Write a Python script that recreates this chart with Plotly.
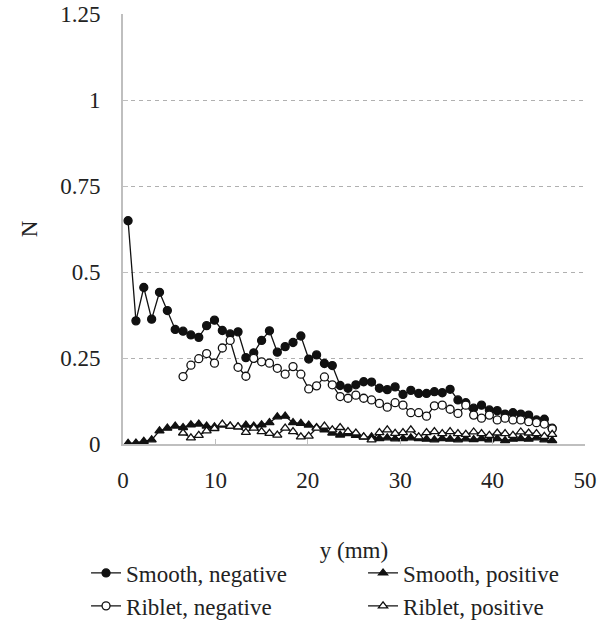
import plotly.graph_objects as go

# x positions (mm)
y_mm = [0.55, 1.40, 2.25, 3.10, 3.95, 4.80, 5.65, 6.50, 7.35, 8.20, 9.05, 9.90, 10.75, 11.60,
        12.45, 13.30, 14.15, 15.00, 15.85, 16.70, 17.55, 18.40, 19.25, 20.10, 20.95, 21.80,
        22.65, 23.50, 24.35, 25.20, 26.05, 26.90, 27.75, 28.60, 29.45, 30.30, 31.15, 32.00,
        32.85, 33.70, 34.55, 35.40, 36.25, 37.10, 37.95, 38.80, 39.65, 40.50, 41.35, 42.20,
        43.05, 43.90, 44.75, 45.60, 46.45]
y_mm_riblet = y_mm[7:]

smooth_neg = [0.649, 0.358, 0.455, 0.363, 0.441, 0.388, 0.333, 0.328, 0.317, 0.310, 0.344, 0.360,
              0.330, 0.320, 0.326, 0.251, 0.265, 0.301, 0.329, 0.267, 0.283, 0.295, 0.314, 0.247,
              0.259, 0.234, 0.228, 0.170, 0.162, 0.172, 0.181, 0.180, 0.162, 0.158, 0.166, 0.144,
              0.156, 0.147, 0.147, 0.152, 0.149, 0.159, 0.128, 0.120, 0.104, 0.113, 0.099, 0.097,
              0.087, 0.091, 0.087, 0.084, 0.070, 0.072, 0.046]
smooth_pos = [0.002, 0.003, 0.008, 0.012, 0.038, 0.046, 0.052, 0.048, 0.056, 0.058, 0.052, 0.050,
              0.055, 0.052, 0.050, 0.055, 0.052, 0.056, 0.062, 0.079, 0.081, 0.062, 0.060, 0.055,
              0.048, 0.041, 0.032, 0.026, 0.030, 0.025, 0.020, 0.021, 0.016, 0.018, 0.015, 0.016,
              0.018, 0.016, 0.014, 0.012, 0.016, 0.014, 0.012, 0.015, 0.013, 0.016, 0.012, 0.016,
              0.010, 0.014, 0.016, 0.014, 0.018, 0.012, 0.010]
riblet_neg = [0.196, 0.229, 0.248, 0.263, 0.235, 0.279, 0.301, 0.223, 0.197, 0.249, 0.239, 0.235,
              0.220, 0.203, 0.225, 0.203, 0.160, 0.169, 0.195, 0.172, 0.138, 0.133, 0.142, 0.133,
              0.128, 0.118, 0.107, 0.120, 0.113, 0.091, 0.091, 0.081, 0.111, 0.113, 0.101, 0.089,
              0.113, 0.084, 0.075, 0.084, 0.070, 0.075, 0.070, 0.070, 0.065, 0.062, 0.058, 0.044]
riblet_pos = [0.032, 0.018, 0.025, 0.038, 0.045, 0.058, 0.052, 0.050, 0.034, 0.046, 0.036, 0.031,
              0.026, 0.046, 0.036, 0.021, 0.023, 0.046, 0.052, 0.041, 0.048, 0.036, 0.032, 0.021,
              0.012, 0.033, 0.041, 0.031, 0.033, 0.041, 0.021, 0.033, 0.036, 0.030, 0.036, 0.030,
              0.028, 0.035, 0.030, 0.025, 0.032, 0.030, 0.025, 0.035, 0.032, 0.030, 0.022, 0.028]

y_ticks = [0, 0.25, 0.5, 0.75, 1, 1.25]
y_tick_text = ["0", "0.25", "0.5", "0.75", "1", "1.25"]
x_ticks = [0, 10, 20, 30, 40, 50]

INK = "#111111"
FONT = "Liberation Serif"
FS = 23

fig = go.Figure()
series = [
    ("Smooth, negative", y_mm, smooth_neg, "circle", INK),
    ("Smooth, positive", y_mm, smooth_pos, "triangle-up", INK),
    ("Riblet, negative", y_mm_riblet, riblet_neg, "circle", "white"),
    ("Riblet, positive", y_mm_riblet, riblet_pos, "triangle-up", "white"),
]
for name, xs, ys, sym, fill in series:
    fig.add_trace(go.Scatter(
        x=xs, y=ys, name=name, mode="lines+markers",
        line=dict(color=INK, width=1.3),
        marker=dict(symbol=sym, size=8, color=fill, line=dict(color=INK, width=1.3)),
    ))

fig.update_layout(
    width=607, height=627,
    margin=dict(l=123, r=22, t=14, b=183, autoexpand=False),
    paper_bgcolor="white", plot_bgcolor="white",
    font=dict(family=FONT, size=FS, color="#222222"),
    showlegend=True,
    legend=dict(orientation="h", x=-0.08, xanchor="left", y=-0.25, yanchor="top",
                entrywidth=232, font=dict(family=FONT, size=FS, color="#222222"),
                itemwidth=30, tracegroupgap=0),
)
fig.update_xaxes(
    range=[0, 50], tickvals=x_ticks, showgrid=False, zeroline=False,
    showline=True, linecolor="#bfbfbf", linewidth=2,
    ticks="inside", ticklen=5, tickcolor="#bfbfbf", tickwidth=1,
    ticklabelstandoff=14, automargin=False,
    title=dict(text="y (mm)", standoff=50, font=dict(family=FONT, size=FS)),
)
fig.update_yaxes(
    range=[0, 1.25], tickvals=y_ticks, ticktext=y_tick_text,
    showgrid=True, gridcolor="#b0b0b0", gridwidth=1, griddash="4px,4px",
    zeroline=False, showline=True, linecolor="#bfbfbf", linewidth=2,
    ticks="inside", ticklen=5, tickcolor="#bfbfbf", tickwidth=1,
    ticklabelstandoff=16, automargin=False,
    title=dict(text="N", standoff=16, font=dict(family=FONT, size=FS)),
)

fig.write_html("out.html")
